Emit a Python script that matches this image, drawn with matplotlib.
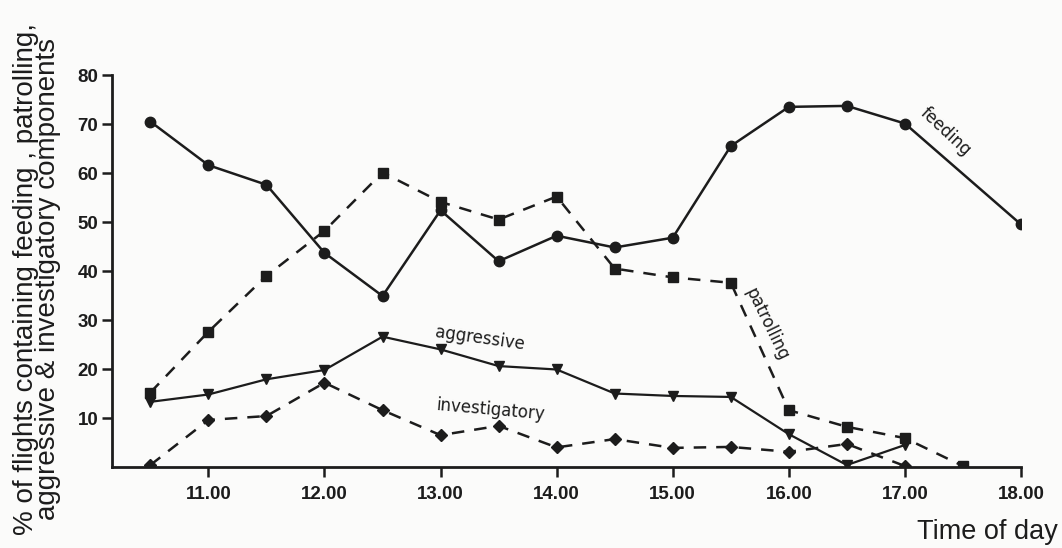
import matplotlib
matplotlib.use("Agg")
import matplotlib.pyplot as plt

feeding_t = [10.5, 11.0, 11.5, 12.0, 12.5, 13.0, 13.5, 14.0, 14.5, 15.0, 15.5, 16.0, 16.5, 17.0, 18.0]
feeding = [70.5, 61.6, 57.6, 43.7, 34.9, 52.4, 42.0, 47.2, 44.8, 46.8, 65.5, 73.5, 73.7, 70.1, 49.5]

patrol_t = [10.5, 11.0, 11.5, 12.0, 12.5, 13.0, 13.5, 14.0, 14.5, 15.0, 15.5, 16.0, 16.5, 17.0, 17.5]
patrolling = [15.2, 27.6, 39.0, 48.2, 60.1, 54.1, 50.5, 55.2, 40.5, 38.7, 37.6, 11.6, 8.2, 5.9, 0.2]

aggr_t = [10.5, 11.0, 11.5, 12.0, 12.5, 13.0, 13.5, 14.0, 14.5, 15.0, 15.5, 16.0, 16.5, 17.0]
aggressive = [13.3, 14.8, 17.9, 19.8, 26.6, 24.0, 20.6, 19.9, 15.0, 14.5, 14.3, 6.7, 0.4, 4.5]

inv_t = [10.5, 11.0, 11.5, 12.0, 12.5, 13.0, 13.5, 14.0, 14.5, 15.0, 15.5, 16.0, 16.5, 17.0]
investigatory = [0.4, 9.6, 10.4, 17.2, 11.6, 6.5, 8.4, 4.0, 5.7, 3.9, 4.1, 3.1, 4.7, 0.2]

xticks = [11, 12, 13, 14, 15, 16, 17, 18]
xticklabels = ["11.00", "12.00", "13.00", "14.00", "15.00", "16.00", "17.00", "18.00"]
yticks = [10, 20, 30, 40, 50, 60, 70, 80]

plt.rcParams['font.family'] = ['Liberation Sans', 'DejaVu Sans']

ink = '#1c1c1c'
fig = plt.figure(figsize=(10.62, 5.48), dpi=100, facecolor='#fbfbfa')
ax = fig.add_axes([0.1055, 0.1478, 0.8559, 0.7153])
ax.set_facecolor('#fbfbfa')

ax.plot(feeding_t, feeding, '-', color=ink, lw=1.8, marker='o', ms=7.5)
ax.plot(patrol_t, patrolling, '--', color=ink, lw=1.8, marker='s', ms=6.5, dashes=(5, 4))
ax.plot(aggr_t, aggressive, '-', color=ink, lw=1.6, marker='v', ms=6.5)
ax.plot(inv_t, investigatory, '--', color=ink, lw=1.8, marker='D', ms=6, dashes=(5, 4))

ax.set_xlim(10.17, 18.0)
ax.set_ylim(0, 80)
ax.set_xticks(xticks)
ax.set_xticklabels(xticklabels)
ax.set_yticks(yticks)
for s in ['top', 'right']:
    ax.spines[s].set_visible(False)
for s in ['left', 'bottom']:
    ax.spines[s].set_linewidth(2)
    ax.spines[s].set_color(ink)
ax.tick_params(axis='both', direction='out', length=7, width=1.8, color=ink,
               labelsize=13.5, labelcolor=ink)
ax.tick_params(axis='y', pad=3)
ax.tick_params(axis='x', pad=7)
for lab in ax.get_xticklabels() + ax.get_yticklabels():
    lab.set_fontweight('bold')

afont = dict(fontsize=12, color=ink, ha='center', va='center', family='DejaVu Sans')
ax.text(17.35, 68.4, "feeding", rotation=-43, **afont)
ax.text(15.81, 29.2, "patrolling", rotation=-64, **afont)
ax.text(13.34, 26.2, "aggressive", rotation=-8, **afont)
ax.text(13.43, 11.6, "investigatory", rotation=-5, **afont)

fig.text(0.012, 0.49, "% of flights containing feeding , patrolling,\naggressive & investigatory components",
         rotation=90, fontsize=20, color=ink, ha='left', va='center', linespacing=0.82,
         multialignment='center')
fig.text(0.996, 0.005, "Time of day", fontsize=19.5, color=ink, ha='right', va='bottom')

fig.savefig("out.png", dpi=100, facecolor=fig.get_facecolor())
